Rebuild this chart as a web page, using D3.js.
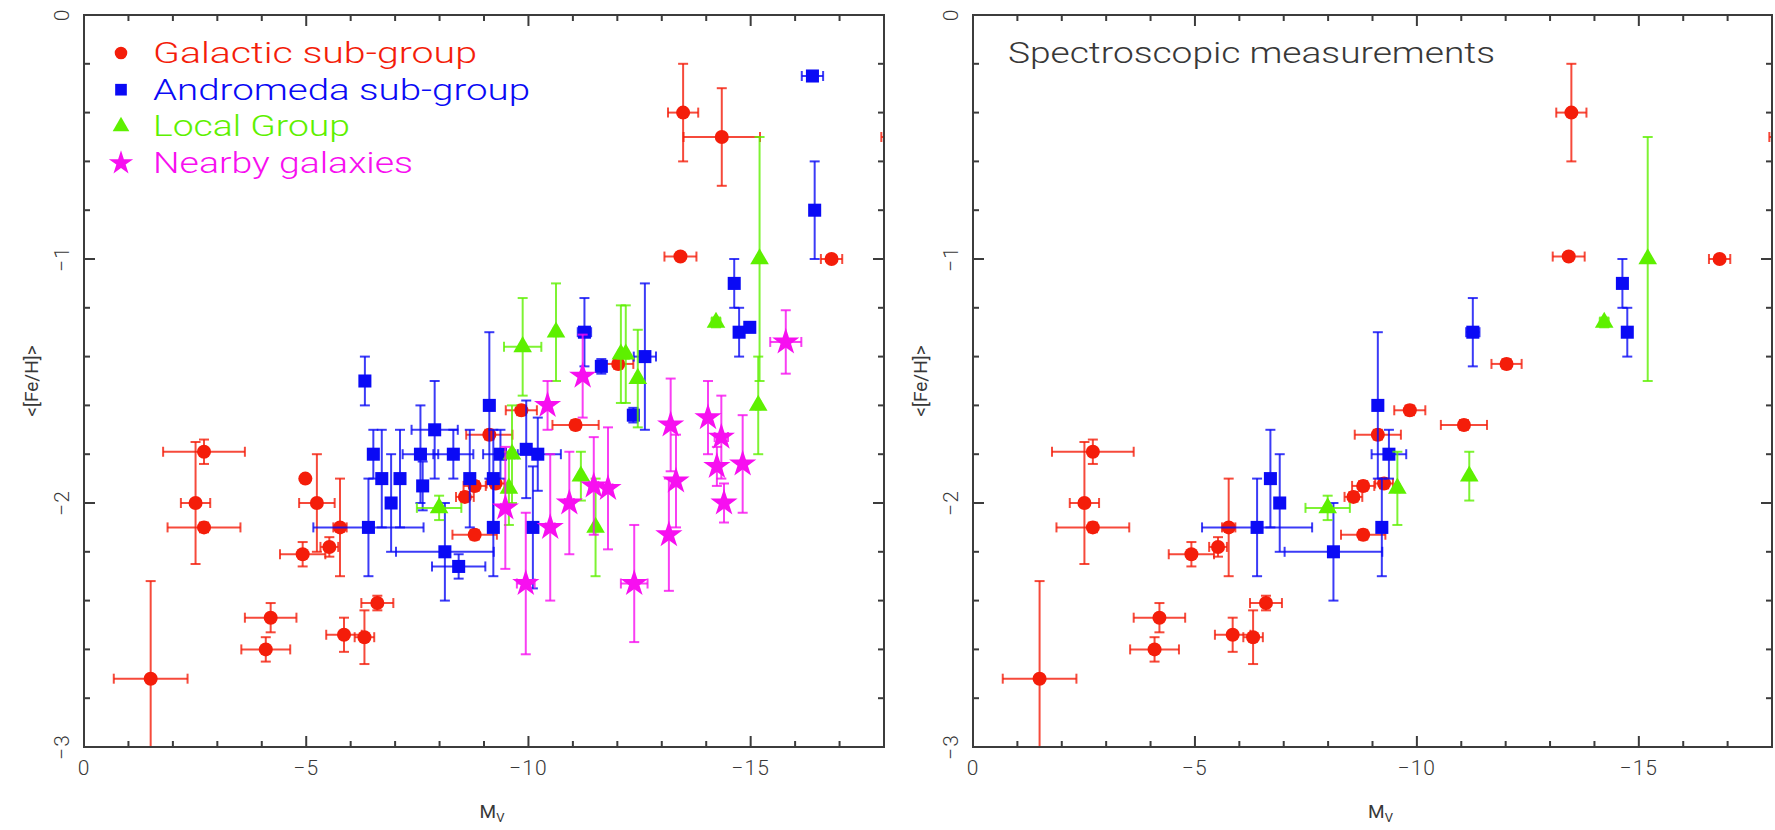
<!DOCTYPE html>
<html>
<head>
<meta charset="utf-8">
<script src="https://cdn.jsdelivr.net/npm/d3@7"></script>
<style>
  html, body { margin: 0; padding: 0; background: #fff; }
  svg { display: block; }
  text { font-family: Roboto, "DejaVu Sans", sans-serif; }
</style>
</head>
<body>
<svg id="chart" width="1775" height="830"></svg>
<script>
// Each row: [M_V, <[Fe/H]>, error in M_V, error in [Fe/H], spectroscopic (1) or not (0)]
const galactic = [
  [-1.50, -2.72, 0.83, 0.40, 1],
  [-2.70, -1.79, 0.92, 0.05, 1],
  [-2.51, -2.00, 0.33, 0.25, 1],
  [-2.70, -2.10, 0.82, 0.02, 1],
  [-4.98, -1.90, 0.00, 0.00, 0],
  [-5.24, -2.00, 0.40, 0.20, 0],
  [-5.76, -2.10, 0.15, 0.20, 1],
  [-4.92, -2.21, 0.51, 0.05, 1],
  [-5.52, -2.18, 0.20, 0.04, 1],
  [-6.60, -2.41, 0.36, 0.03, 1],
  [-4.20, -2.47, 0.58, 0.06, 1],
  [-4.09, -2.60, 0.55, 0.05, 1],
  [-5.85, -2.54, 0.40, 0.07, 1],
  [-6.31, -2.55, 0.22, 0.11, 1],
  [-13.48, -0.40, 0.34, 0.20, 1],
  [-14.35, -0.50, 0.86, 0.20, 0],
  [-13.42, -0.99, 0.36, 0.00, 1],
  [-16.82, -1.00, 0.24, 0.00, 1],
  [-18.50, -0.50, 0.56, 0.00, 1],
  [-12.02, -1.43, 0.34, 0.02, 1],
  [-9.84, -1.62, 0.35, 0.02, 1],
  [-11.06, -1.68, 0.52, 0.02, 1],
  [-9.12, -1.72, 0.52, 0.02, 1],
  [-8.79, -1.93, 0.25, 0.02, 1],
  [-9.26, -1.92, 0.20, 0.02, 1],
  [-8.57, -1.975, 0.20, 0.02, 1],
  [-8.79, -2.13, 0.50, 0.02, 1]
];

const andromeda = [
  [-16.39, -0.25, 0.24, 0.02, 0],
  [-16.44, -0.80, 0.05, 0.20, 0],
  [-14.63, -1.10, 0.05, 0.10, 1],
  [-14.74, -1.30, 0.05, 0.10, 1],
  [-14.98, -1.28, 0.10, 0.02, 0],
  [-11.26, -1.30, 0.15, 0.14, 1],
  [-11.64, -1.44, 0.05, 0.03, 0],
  [-12.62, -1.40, 0.25, 0.30, 0],
  [-9.12, -1.60, 0.10, 0.30, 1],
  [-12.36, -1.64, 0.10, 0.03, 0],
  [-6.32, -1.50, 0.05, 0.10, 0],
  [-7.89, -1.70, 0.52, 0.20, 0],
  [-6.51, -1.80, 0.10, 0.10, 0],
  [-7.57, -1.80, 0.40, 0.20, 0],
  [-8.31, -1.80, 0.45, 0.10, 0],
  [-9.37, -1.80, 0.39, 0.10, 1],
  [-6.70, -1.90, 0.10, 0.20, 1],
  [-7.11, -1.90, 0.10, 0.20, 0],
  [-7.62, -1.93, 0.10, 0.10, 0],
  [-8.68, -1.90, 0.10, 0.20, 0],
  [-9.21, -1.90, 0.10, 0.20, 0],
  [-6.91, -2.00, 0.10, 0.20, 1],
  [-6.40, -2.10, 1.24, 0.20, 1],
  [-9.21, -2.10, 0.10, 0.20, 1],
  [-8.12, -2.20, 1.10, 0.20, 1],
  [-8.43, -2.26, 0.60, 0.05, 0],
  [-9.95, -1.78, 0.10, 0.20, 0],
  [-10.21, -1.80, 0.52, 0.15, 0],
  [-10.10, -2.10, 0.10, 0.25, 0]
];

const localGroup = [
  [-15.20, -1.00, 0.05, 0.50, 1],
  [-14.22, -1.26, 0.10, 0.02, 1],
  [-15.17, -1.60, 0.05, 0.20, 0],
  [-9.87, -1.36, 0.42, 0.20, 0],
  [-10.62, -1.30, 0.05, 0.20, 0],
  [-12.08, -1.39, 0.05, 0.20, 0],
  [-12.19, -1.39, 0.05, 0.20, 0],
  [-12.46, -1.49, 0.05, 0.20, 0],
  [-11.18, -1.89, 0.05, 0.10, 1],
  [-11.51, -2.10, 0.05, 0.20, 0],
  [-9.63, -1.80, 0.05, 0.20, 0],
  [-9.56, -1.94, 0.05, 0.15, 1],
  [-7.99, -2.02, 0.50, 0.05, 1]
];

const nearby = [
  [-15.79, -1.34, 0.35, 0.13, 0],
  [-11.22, -1.48, 0.05, 0.17, 0],
  [-10.43, -1.60, 0.05, 0.10, 0],
  [-13.20, -1.68, 0.05, 0.19, 0],
  [-14.04, -1.65, 0.05, 0.15, 0],
  [-14.34, -1.73, 0.15, 0.17, 0],
  [-14.24, -1.85, 0.05, 0.08, 0],
  [-14.82, -1.84, 0.05, 0.20, 0],
  [-14.40, -2.00, 0.05, 0.08, 0],
  [-13.32, -1.91, 0.05, 0.19, 0],
  [-13.16, -2.13, 0.05, 0.23, 0],
  [-12.38, -2.33, 0.30, 0.24, 0],
  [-11.79, -1.94, 0.10, 0.25, 0],
  [-11.47, -1.93, 0.10, 0.20, 0],
  [-10.92, -2.00, 0.10, 0.21, 0],
  [-10.49, -2.10, 0.10, 0.30, 0],
  [-9.94, -2.33, 0.20, 0.29, 0],
  [-9.48, -2.02, 0.10, 0.25, 0]
];

const seriesNames = ["Galactic sub-group", "Andromeda sub-group", "Local Group", "Nearby galaxies"];
const seriesColors = ["#f41d0a", "#0a0af5", "#5ef000", "#f70ff0"];
const seriesShapes = [d3.symbolCircle, d3.symbolSquare, d3.symbolTriangle, d3.symbolStar];
const seriesSizes = [155, 170, 150, 230];
const seriesData = [galactic, andromeda, localGroup, nearby];

const xMajorTicks = [0, -5, -10, -15];
const xMinorTicks = d3.range(0, -19, -1);
const yMajorTicks = [0, -1, -2, -3];
const yMinorTicks = d3.range(0, -3.01, -0.2).map(v => +v.toFixed(1));

const panelTitle = "Spectroscopic measurements";

const svg = d3.select("#chart");
const plotTop = 15, plotBottom = 747;
const panels = [
  { left: 84, right: 884, specOnly: false, legend: true },
  { left: 973, right: 1772, specOnly: true, legend: false }
];

const axisColor = "#3c3c3c";
const labelColor = "#383838";

panels.forEach((p, pi) => {
  const x = d3.scaleLinear().domain([0, -18]).range([p.left, p.right]);
  const y = d3.scaleLinear().domain([-3, 0]).range([plotBottom, plotTop]);
  const g = svg.append("g");

  const clipId = "clip" + pi;
  svg.append("defs").append("clipPath").attr("id", clipId)
    .append("rect").attr("x", p.left).attr("y", plotTop)
    .attr("width", p.right - p.left).attr("height", plotBottom - plotTop);

  const plot = g.append("g").attr("clip-path", `url(#${clipId})`);

  seriesData.forEach((rows, si) => {
    const pts = rows.filter(r => !p.specOnly || r[4] === 1);
    const col = seriesColors[si];
    const eb = plot.append("g").attr("stroke", col).attr("stroke-width", 2)
      .attr("stroke-opacity", 0.8).attr("fill", "none");
    const cap = 5;
    pts.forEach(r => {
      const cx = x(r[0]), cy = y(r[1]);
      if (r[2] > 0) {
        const xa = x(r[0] + r[2]), xb = x(r[0] - r[2]);
        eb.append("line").attr("x1", xa).attr("x2", xb).attr("y1", cy).attr("y2", cy);
        eb.append("line").attr("x1", xa).attr("x2", xa).attr("y1", cy - cap).attr("y2", cy + cap);
        eb.append("line").attr("x1", xb).attr("x2", xb).attr("y1", cy - cap).attr("y2", cy + cap);
      }
      if (r[3] > 0) {
        const ya = y(r[1] + r[3]), yb = y(r[1] - r[3]);
        eb.append("line").attr("x1", cx).attr("x2", cx).attr("y1", ya).attr("y2", yb);
        eb.append("line").attr("x1", cx - cap).attr("x2", cx + cap).attr("y1", ya).attr("y2", ya);
        eb.append("line").attr("x1", cx - cap).attr("x2", cx + cap).attr("y1", yb).attr("y2", yb);
      }
    });
    const sym = d3.symbol().type(seriesShapes[si]).size(seriesSizes[si]);
    plot.append("g").selectAll("path").data(pts).join("path")
      .attr("d", sym)
      .attr("transform", r => `translate(${x(r[0])},${y(r[1])})`)
      .attr("fill", col);
  });

  // Frame with inward ticks on all four sides
  const frame = g.append("g").attr("stroke", axisColor).attr("stroke-width", 2).attr("fill", "none");
  frame.append("rect").attr("x", p.left).attr("y", plotTop)
    .attr("width", p.right - p.left).attr("height", plotBottom - plotTop);

  xMinorTicks.forEach(v => {
    const len = xMajorTicks.includes(v) ? 11 : 6;
    frame.append("line").attr("x1", x(v)).attr("x2", x(v)).attr("y1", plotBottom).attr("y2", plotBottom - len);
    frame.append("line").attr("x1", x(v)).attr("x2", x(v)).attr("y1", plotTop).attr("y2", plotTop + len);
  });
  yMinorTicks.forEach(v => {
    const len = yMajorTicks.includes(v) ? 11 : 6;
    frame.append("line").attr("x1", p.left).attr("x2", p.left + len).attr("y1", y(v)).attr("y2", y(v));
    frame.append("line").attr("x1", p.right).attr("x2", p.right - len).attr("y1", y(v)).attr("y2", y(v));
  });

  // Tick labels
  g.append("g").selectAll("text").data(xMajorTicks).join("text")
    .attr("x", d => x(d)).attr("y", 775)
    .attr("text-anchor", "middle").attr("font-size", 21).attr("font-weight", 300)
    .attr("letter-spacing", 1).attr("fill", labelColor)
    .text(d => d3.format("")(d));

  g.append("g").selectAll("text").data(yMajorTicks).join("text")
    .attr("transform", d => `translate(${p.left - 15},${y(d)}) rotate(-90)`)
    .attr("text-anchor", "middle").attr("font-size", 21).attr("font-weight", 300)
    .attr("letter-spacing", 1).attr("fill", labelColor)
    .text(d => d3.format("")(d));

  // Axis titles
  g.append("text")
    .attr("transform", `translate(${p.left - 46},381) rotate(-90)`)
    .attr("text-anchor", "middle").attr("font-size", 19).attr("fill", labelColor)
    .text("<[Fe/H]>");

  const xt = g.append("text").attr("x", x(-8.9)).attr("y", 818)
    .attr("font-size", 19).attr("fill", labelColor);
  xt.append("tspan").text("M");
  xt.append("tspan").attr("font-size", 13).attr("dy", 4).text("V");

  if (p.legend) {
    const lg = g.append("g");
    const widths = [324, 377, 197, 260];
    seriesNames.forEach((name, i) => {
      const yy = 53 + i * 36.7;
      const sym = d3.symbol().type(seriesShapes[i]).size(seriesSizes[i] * 0.8);
      lg.append("path").attr("d", sym)
        .attr("transform", `translate(121,${yy})`).attr("fill", seriesColors[i]);
      lg.append("text").attr("x", 153).attr("y", yy + 10)
        .attr("font-size", 30).attr("font-weight", 300)
        .attr("textLength", widths[i]).attr("lengthAdjust", "spacingAndGlyphs")
        .attr("fill", seriesColors[i]).text(name);
    });
  } else {
    g.append("text").attr("x", 1008).attr("y", 63)
      .attr("font-size", 30).attr("font-weight", 300)
      .attr("textLength", 487).attr("lengthAdjust", "spacingAndGlyphs")
      .attr("fill", labelColor).text(panelTitle);
  }
});
</script>
</body>
</html>
